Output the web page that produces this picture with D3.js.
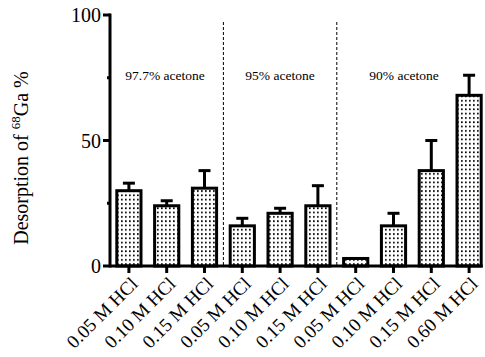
<!DOCTYPE html>
<html>
<head>
<meta charset="utf-8">
<script src="https://cdn.jsdelivr.net/npm/d3@7"></script>
<style>
  html, body { margin: 0; padding: 0; background: #fff; }
  svg { display: block; }
  text { font-family: "Liberation Serif", "DejaVu Serif", serif; fill: #000; }
</style>
</head>
<body>
<svg id="chart" width="485" height="357"></svg>
<script>
// Desorption of 68Ga (%) for each acetone / HCl mixture
const categories = [
  "0.05 M HCl", "0.10 M HCl", "0.15 M HCl",
  "0.05 M HCl", "0.10 M HCl", "0.15 M HCl",
  "0.05 M HCl", "0.10 M HCl", "0.15 M HCl", "0.60 M HCl"
];
const values = [30, 24, 31, 16, 21, 24, 3, 16, 38, 68];
const errors = [3, 2, 7, 3, 2, 8, 0, 5, 12, 8];
const groupLabels = ["97.7% acetone", "95% acetone", "90% acetone"];
const groupStarts = [0, 3, 6];          // first bar index of each group
const yTicks = [0, 50, 100];
const yMinorTicks = [25, 75];

const svg = d3.select("#chart");

const x = d3.scaleBand()
  .domain(d3.range(categories.length))
  .range([110, 488])
  .paddingInner(0.36)
  .paddingOuter(0.18);

const y = d3.scaleLinear().domain([0, 100]).range([266, 15]);

// dotted fill for the bars
const defs = svg.append("defs");
const pat = defs.append("pattern")
  .attr("id", "dots")
  .attr("patternUnits", "userSpaceOnUse")
  .attr("width", 4).attr("height", 4.3);
pat.append("rect").attr("width", 4).attr("height", 4.3).attr("fill", "#fff");
pat.append("rect").attr("x", 1).attr("y", 1).attr("width", 1.7).attr("height", 1.7).attr("fill", "#000");

// group separators
const sepX = groupStarts.slice(1).map(i => (x(i - 1) + x.bandwidth() + x(i)) / 2);
svg.selectAll(".sep").data(sepX).join("line")
  .attr("class", "sep")
  .attr("x1", d => d).attr("x2", d => d)
  .attr("y1", 22).attr("y2", y(0))
  .attr("stroke", "#000").attr("stroke-width", 1)
  .attr("stroke-dasharray", "3,2");

// group labels
const groupCenters = [165, 280, 404];
svg.selectAll(".glabel").data(groupLabels).join("text")
  .attr("class", "glabel")
  .attr("x", (d, i) => groupCenters[i])
  .attr("y", 80)
  .attr("text-anchor", "middle")
  .attr("font-size", 13.5)
  .text(d => d);

// error bars
const eb = svg.selectAll(".err").data(values.map((v, i) => ({ v, e: errors[i], i })).filter(d => d.e > 0))
  .join("g").attr("class", "err");
eb.append("line")
  .attr("x1", d => x(d.i) + x.bandwidth() / 2).attr("x2", d => x(d.i) + x.bandwidth() / 2)
  .attr("y1", d => y(d.v)).attr("y2", d => y(d.v + d.e))
  .attr("stroke", "#000").attr("stroke-width", 3);
eb.append("line")
  .attr("x1", d => x(d.i) + x.bandwidth() / 2 - 6).attr("x2", d => x(d.i) + x.bandwidth() / 2 + 6)
  .attr("y1", d => y(d.v + d.e)).attr("y2", d => y(d.v + d.e))
  .attr("stroke", "#000").attr("stroke-width", 3);

// bars
svg.selectAll(".bar").data(values).join("rect")
  .attr("class", "bar")
  .attr("x", (d, i) => x(i))
  .attr("width", x.bandwidth())
  .attr("y", d => y(d))
  .attr("height", d => y(0) - y(d))
  .attr("fill", "url(#dots)")
  .attr("stroke", "#000").attr("stroke-width", 3);

// y axis
const yAxis = svg.append("g").attr("transform", "translate(110,0)");
yAxis.append("line")
  .attr("x1", 0).attr("x2", 0).attr("y1", y(100) - 1.5).attr("y2", y(0) + 1.5)
  .attr("stroke", "#000").attr("stroke-width", 3);
yAxis.selectAll(".major").data(yTicks).join("line")
  .attr("x1", -7).attr("x2", 0).attr("y1", d => y(d)).attr("y2", d => y(d))
  .attr("stroke", "#000").attr("stroke-width", 3);
yAxis.selectAll(".minor").data(yMinorTicks).join("line")
  .attr("x1", -3).attr("x2", 0).attr("y1", d => y(d)).attr("y2", d => y(d))
  .attr("stroke", "#000").attr("stroke-width", 3);
yAxis.selectAll(".ylab").data(yTicks).join("text")
  .attr("x", -9).attr("y", d => y(d)).attr("dy", "0.35em")
  .attr("text-anchor", "end").attr("font-size", 20)
  .text(d => d);

// x axis
svg.append("line")
  .attr("x1", 110).attr("x2", x(categories.length - 1) + x.bandwidth() + 1.5)
  .attr("y1", y(0)).attr("y2", y(0))
  .attr("stroke", "#000").attr("stroke-width", 3);
svg.selectAll(".xtick").data(categories).join("line")
  .attr("x1", (d, i) => x(i) + x.bandwidth() / 2).attr("x2", (d, i) => x(i) + x.bandwidth() / 2)
  .attr("y1", y(0)).attr("y2", y(0) + 7)
  .attr("stroke", "#000").attr("stroke-width", 3);
svg.selectAll(".xlab").data(categories).join("text")
  .attr("text-anchor", "end").attr("font-size", 19)
  .attr("transform", (d, i) => `translate(${x(i) + x.bandwidth() / 2 + 10},${y(0) + 19}) rotate(-45)`)
  .text(d => d);

// y axis title
const title = svg.append("text")
  .attr("transform", "translate(28,158) rotate(-90)")
  .attr("text-anchor", "middle")
  .attr("font-size", 20);
title.append("tspan").text("Desorption of ");
title.append("tspan").attr("font-size", 13).attr("dy", -8).text("68");
title.append("tspan").attr("dy", 8).text("Ga %");
</script>
</body>
</html>
